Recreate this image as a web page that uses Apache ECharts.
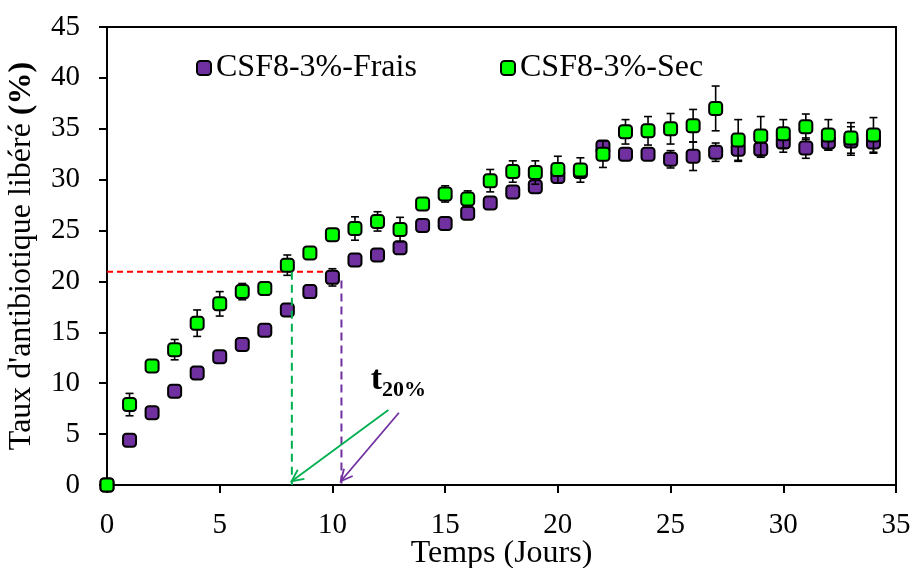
<!DOCTYPE html>
<html><head><meta charset="utf-8">
<script src="https://cdn.jsdelivr.net/npm/echarts@6/dist/echarts.min.js"></script>
<style>html,body{margin:0;padding:0;background:#fff}#c{width:913px;height:568px}</style>
</head><body><div id="c"></div>
<script>
const days = [0,1,2,3,4,5,6,7,8,9,10,11,12,13,14,15,16,17,18,19,20,21,22,23,24,25,26,27,28,29,30,31,32,33,34];
const frais = [0,4.4,7.1,9.2,11.0,12.6,13.8,15.2,17.2,19.0,20.4,22.1,22.6,23.3,25.5,25.7,26.7,27.7,28.8,29.3,30.3,30.8,33.2,32.5,32.5,32.0,32.3,32.7,33.0,33.0,33.7,33.1,33.7,33.8,33.7];
const fraisErr = [0,0.2,0.2,0.2,0.2,0.2,0.2,0.2,0.2,0.2,0.85,0.3,0.3,0.3,0.3,0.3,0.3,0.3,0.3,0.3,0.3,0.3,0.3,0.5,0.5,0.85,1.4,0.9,1.2,0.8,1.0,1.0,0.8,1.4,1.1];
const sec = [0,7.9,11.7,13.3,15.9,17.8,19.0,19.3,21.6,22.8,24.6,25.2,25.9,25.1,27.6,28.6,28.1,29.9,30.8,30.7,31.0,30.95,32.5,34.7,34.8,35.0,35.3,37.0,33.9,34.3,34.5,35.2,34.4,34.1,34.4];
const secErr = [0,1.1,0.3,1.0,1.3,1.2,0.8,0.3,1.0,0.4,0.3,1.15,0.95,1.2,0.5,0.8,0.8,1.1,1.05,1.15,1.3,1.2,1.3,1.2,1.4,1.5,1.6,2.2,2.0,1.9,1.4,1.25,1.5,1.5,1.7];
const seriesNames = ['CSF8-3%-Frais','CSF8-3%-Sec'];
const xTicks = {min:0,max:35,interval:5};
const yTicks = {min:0,max:45,interval:5};
// annotation anchors (data units)
const threshold = 20.95;
const t20Sec = 8.2, t20Frais = 10.4;
const thresholdEnd = 10.25;
const fraisDropTop = 20.1;
const arrowSec = [[12.48,7.36],[8.19,0.37]];
const arrowFrais = [[12.95,7.1],[10.37,0.37]];
const labelPos = [11.7,8.6];

const FONT = "'Liberation Serif','Times New Roman',serif";
const PURPLE = '#7030A0', GREEN = '#00FF00', DGREEN = '#00B050';

const chart = echarts.init(document.getElementById('c'));
function errRender(params, api){
  const x = api.value(0), y = api.value(1), e = api.value(2);
  if(!e) return;
  const hi = api.coord([x, y+e]), lo = api.coord([x, y-e]);
  const w = 4;
  const st = {stroke:'#000', lineWidth:1.6};
  return {type:'group', children:[
    {type:'line', shape:{x1:hi[0],y1:hi[1],x2:lo[0],y2:lo[1]}, style:st},
    {type:'line', shape:{x1:hi[0]-w,y1:hi[1],x2:hi[0]+w,y2:hi[1]}, style:st},
    {type:'line', shape:{x1:lo[0]-w,y1:lo[1],x2:lo[0]+w,y2:lo[1]}, style:st}
  ]};
}
const axisCommon = {
  axisLine:{lineStyle:{color:'#000',width:2}},
  axisTick:{inside:false,length:8,lineStyle:{color:'#000',width:2}},
  splitLine:{show:false}
};
const option = {
  animation:false,
  backgroundColor:'#fff',
  grid:{left:107,right:17,top:27,bottom:83,containLabel:false,outerBoundsMode:'none',show:true,borderColor:'#000',borderWidth:2,backgroundColor:'transparent'},
  legend:[
    {data:[seriesNames[0]],left:191,top:47,itemWidth:14,itemHeight:14,selectedMode:false,
     textStyle:{fontSize:32,fontFamily:FONT,color:'#000'}},
    {data:[seriesNames[1]],left:495,top:47,itemWidth:14,itemHeight:14,selectedMode:false,
     textStyle:{fontSize:32,fontFamily:FONT,color:'#000'}}
  ],
  xAxis:Object.assign({type:'value',min:xTicks.min,max:xTicks.max,interval:xTicks.interval,
    name:'Temps (Jours)',nameLocation:'middle',nameGap:53,nameMoveOverlap:false,
    nameTextStyle:{fontSize:32,fontFamily:FONT,color:'#000'}}, axisCommon,
    {axisLabel:{color:'#000',fontSize:29,fontFamily:FONT,margin:26}}),
  yAxis:Object.assign({type:'value',min:yTicks.min,max:yTicks.max,interval:yTicks.interval,
    name:"Taux d'antibiotique libéré {b|(%)}",nameLocation:'middle',nameGap:69,nameMoveOverlap:false,
    nameTextStyle:{fontSize:32,fontFamily:FONT,color:'#000',rich:{b:{fontSize:32,fontFamily:FONT,fontWeight:'bold',color:'#000'}}}}, axisCommon,
    {axisLabel:{color:'#000',fontSize:29,fontFamily:FONT,margin:27}}),
  series:[
    {type:'custom',name:'errF',renderItem:errRender,data:days.map((d,i)=>[d,frais[i],fraisErr[i]]),z:3,clip:false,silent:true},
    {type:'scatter',name:seriesNames[0],data:days.map((d,i)=>[d,frais[i]]),symbol:'roundRect',symbolSize:13,
      itemStyle:{color:PURPLE,borderColor:'#000',borderWidth:2,opacity:1},z:4,clip:false},
    {type:'custom',name:'errS',renderItem:errRender,data:days.map((d,i)=>[d,sec[i],secErr[i]]),z:5,clip:false,silent:true},
    {type:'scatter',name:seriesNames[1],data:days.map((d,i)=>[d,sec[i]]),symbol:'roundRect',symbolSize:13,
      itemStyle:{color:GREEN,borderColor:'#000',borderWidth:2,opacity:1},z:6,clip:false}
  ]
};
chart.setOption(option);

function px(p){ return chart.convertToPixel({gridIndex:0}, p); }
function arrowEls(a, color){
  const s = px(a[0]), t = px(a[1]);
  const ang = Math.atan2(s[1]-t[1], s[0]-t[0]);
  const L = 13, da = 0.45;
  const p1 = [t[0]+L*Math.cos(ang+da), t[1]+L*Math.sin(ang+da)];
  const p2 = [t[0]+L*Math.cos(ang-da), t[1]+L*Math.sin(ang-da)];
  const st = {stroke:color, lineWidth:1.8, fill:null};
  return [
    {type:'line', shape:{x1:s[0],y1:s[1],x2:t[0],y2:t[1]}, style:st, z:10},
    {type:'polyline', shape:{points:[p1,t,p2]}, style:st, z:10}
  ];
}
const a0 = px([0,threshold]), a1 = px([thresholdEnd,threshold]);
const g0 = px([t20Sec,threshold]), g1 = px([t20Sec,0]);
const f0 = px([t20Frais,fraisDropTop]), f1 = px([t20Frais,0]);
const lp = px(labelPos);
const graphics = [
  {type:'line', shape:{x1:a0[0],y1:a0[1],x2:a1[0],y2:a1[1]}, style:{stroke:'#FF0000',lineWidth:2,lineDash:[6,4]}, z:1},
  {type:'line', shape:{x1:g0[0],y1:g0[1],x2:g1[0],y2:g1[1]}, style:{stroke:DGREEN,lineWidth:2,lineDash:[8,5]}, z:10},
  {type:'line', shape:{x1:f0[0],y1:f0[1],x2:f1[0],y2:f1[1]}, style:{stroke:PURPLE,lineWidth:2,lineDash:[8,5]}, z:10},
  ...arrowEls(arrowSec, DGREEN),
  ...arrowEls(arrowFrais, PURPLE),
  {type:'text', x:lp[0], y:lp[1], z:10, style:{text:'{t|t}{s|20%}', fontFamily:FONT, fill:'#000', verticalAlign:'bottom',
    rich:{t:{fontSize:34,fontWeight:'bold',fontFamily:FONT,fill:'#000',verticalAlign:'bottom'},
          s:{fontSize:22,fontWeight:'bold',fontFamily:FONT,fill:'#000',verticalAlign:'bottom',padding:[0,0,-4,0]}}}}
];
chart.setOption({graphic:graphics});
</script></body></html>
